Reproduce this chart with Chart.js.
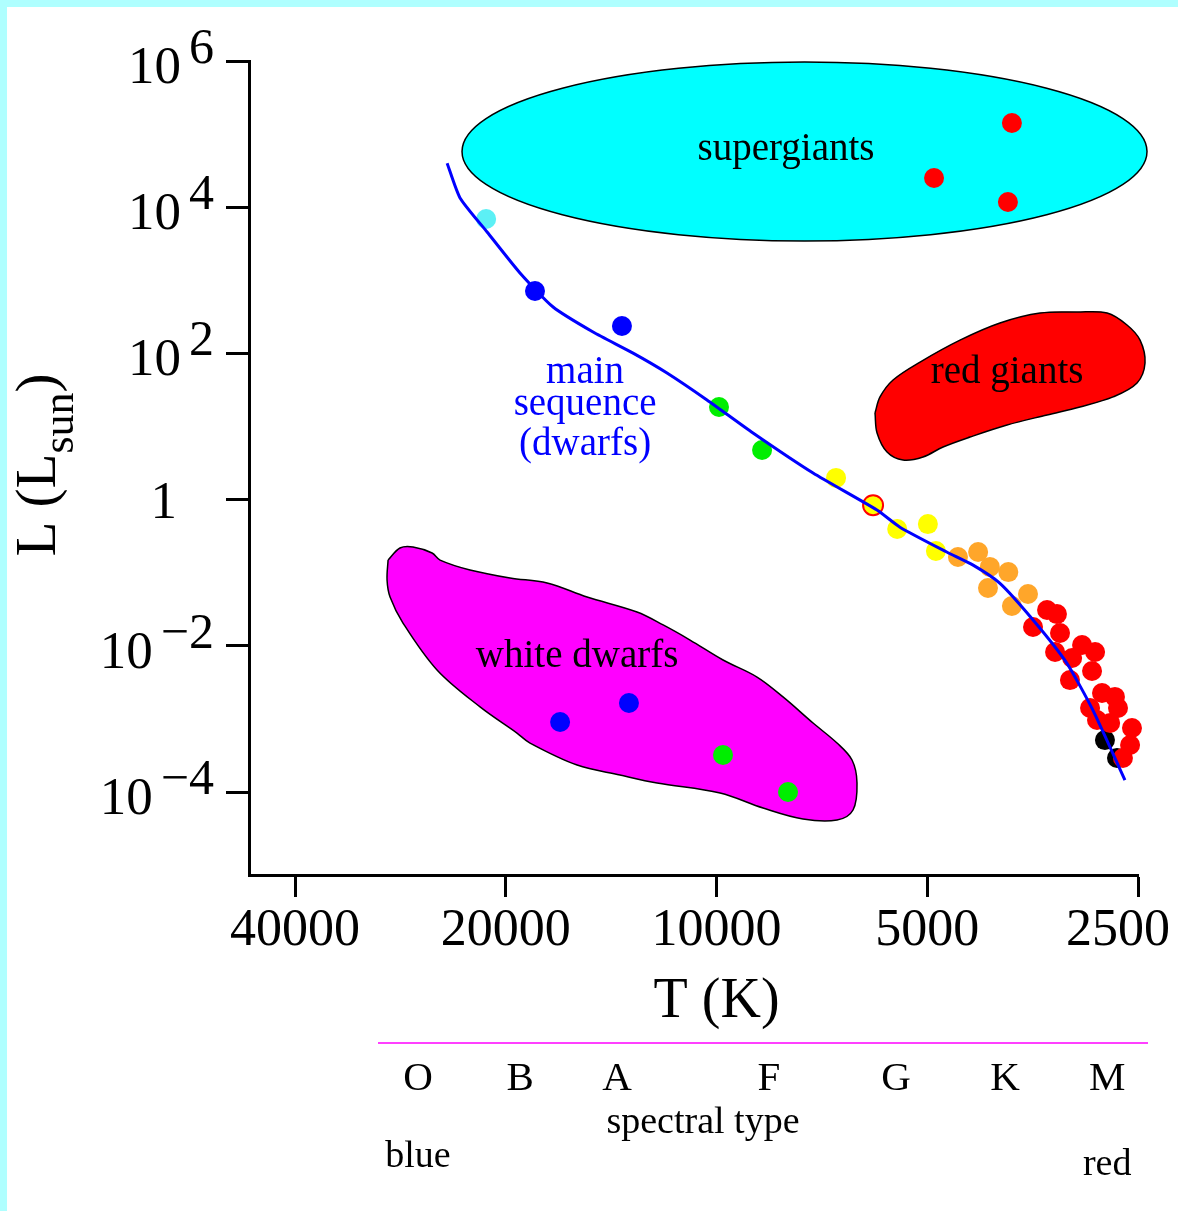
<!DOCTYPE html>
<html>
<head>
<meta charset="utf-8">
<script src="https://cdn.jsdelivr.net/npm/chart.js@4.4.1/dist/chart.umd.min.js"></script>
<style>
  html, body { margin: 0; padding: 0; background: #fff; }
  canvas { display: block; }
</style>
</head>
<body>
<canvas id="hrChart" width="1178" height="1211"></canvas>
<script>
// axis ticks
const tempTicks = [40000, 20000, 10000, 5000, 2500];          // T (K)
const lumTicks = [1e-4, 1e-2, 1, 1e2, 1e4, 1e6];              // L (L_sun)
const lumTickExp = ['\u22124', '\u22122', '', '2', '4', '6'];

// main sequence track, hot -> cool  [T, L]
const msTrack = [
    [24260, 4.0e4], [23250, 1.34e4], [21270, 4580], [19090, 1260], [17120, 431],
    [15010, 196], [13160, 101], [11770, 54], [10320, 23.1], [8870, 8.15],
    [7280, 2.31], [5900, 0.72], [5470, 0.42], [4690, 0.192], [4300, 0.127],
    [3940, 0.072], [3530, 0.0225], [3160, 0.0058], [2900, 0.00132], [2610, 1.46e-4]
];

// stars [T, L]
const supergiantStars = [[3785, 1.42e5], [4890, 2.51e4], [3835, 1.18e4]];
const msCyan = [[21340, 6900]];
const msBlue = [[18170, 714], [13650, 237]];
const msGreen = [[9920, 18.5], [8610, 4.77]];
const msYellow = [[6750, 1.98], [5520, 0.396], [4990, 0.463], [4860, 0.198]];
const sunStar = [[5976, 0.84]];
const msOrange = [
    [4520, 0.164], [4230, 0.192], [4070, 0.120], [3830, 0.102],
    [4095, 0.0618], [3590, 0.0512], [3785, 0.0351]
];
const msRed = [
    [3372, 0.0309], [3264, 0.0272], [3531, 0.0181], [3231, 0.0150], [3284, 0.00822],
    [3005, 0.01025], [2879, 0.00822], [3105, 0.00681], [2908, 0.00452], [3127, 0.0034],
    [2814, 0.00226], [2697, 0.002], [2927, 0.00141], [2670, 0.00141], [2861, 9.66e-4],
    [2740, 8.79e-4], [2550, 7.51e-4], [2566, 4.4e-4], [2627, 2.92e-4]
];
const msBlack = [[2787, 5.14e-4], [2679, 2.92e-4]];
const wdBlue = [[16730, 9.08e-4], [13340, 1.65e-3]];
const wdGreen = [[9790, 3.21e-4], [7905, 1.0e-4]];

// region outlines [T, L]
const redGiantZone = [
    [5938, 15.3], [5841, 25.4], [5596, 43.3], [5120, 76.2], [4490, 152], [3937, 261],
    [3450, 357], [3055, 368], [2767, 357], [2592, 245], [2483, 152], [2443, 73.9],
    [2508, 39.4], [2714, 25.4], [3026, 18.5], [3372, 14.4], [3846, 10.5], [4344, 7.18],
    [4747, 5.25], [5070, 3.83], [5415, 3.48], [5708, 4.48], [5898, 8.15]
];
const whiteDwarfZone = [
    [29460, 0.149], [28330, 0.218], [27140, 0.225], [25490, 0.186], [24830, 0.149],
    [22500, 0.109], [19725, 0.0847], [17460, 0.0723], [15310, 0.0465], [12990, 0.0290],
    [11920, 0.0193], [10910, 0.0120], [9788, 0.0064], [8753, 0.00374], [8036, 0.0020],
    [7280, 8.79e-4], [6728, 4.68e-4], [6404, 2.74e-4], [6300, 1.33e-4], [6383, 5.68e-5],
    [6728, 4.14e-5], [7525, 4.27e-5], [8582, 6.04e-5], [9885, 9.68e-5], [12160, 1.33e-4],
    [13740, 1.71e-4], [15820, 2.34e-4], [18470, 4.68e-4], [19280, 6.41e-4], [21770, 1.46e-3],
    [25080, 4.67e-3], [28050, 0.0205], [29270, 0.0465], [29560, 0.0794]
];
const supergiantZone = { hot: 23100, cool: 2427, top: 9.7e5, bottom: 3450 };

// labels anchored in data space
const regionLabels = [
    { text: 'supergiants', t: 7957, l: 4.43e4, color: '#000' },
    { text: 'red giants', t: 3846, l: 39.4, color: '#000' },
    { text: 'white dwarfs', t: 15820, l: 5.13e-3, color: '#000' },
    { text: 'main', t: 15410, l: 39.4, color: '#0000ff' },
    { text: 'sequence', t: 15410, l: 14.4, color: '#0000ff' },
    { text: '(dwarfs)', t: 15410, l: 4.07, color: '#0000ff' }
];
const spectralTypes = ['O', 'B', 'A', 'F', 'G', 'K', 'M'];
const spectralTemps = [26700, 19080, 13870, 8415, 5541, 3872, 2767];

const SERIF = '"Liberation Serif", "Times New Roman", serif';

const toXY = pts => pts.map(p => ({ x: p[0], y: p[1] }));

function starSet(pts, color, order) {
    return {
        data: toXY(pts),
        backgroundColor: color,
        borderWidth: 0,
        pointRadius: 10,
        pointHoverRadius: 10,
        order: order,
        clip: false
    };
}

// closed outline; filled by the zoneFill plugin from the line element's own path
function zoneSet(pts, color) {
    return {
        data: toXY(pts.concat([pts[0]])),
        showLine: true,
        zoneFill: color,
        borderColor: '#000',
        borderWidth: 1.5,
        pointRadius: 0,
        tension: 0.35,
        order: 10,
        clip: false
    };
}

const background = {
    id: 'background',
    beforeDraw(chart) {
        const { ctx, width, height } = chart;
        ctx.save();
        ctx.fillStyle = '#fff';
        ctx.fillRect(0, 0, width, height);
        ctx.fillStyle = '#afffff';
        ctx.fillRect(0, 0, width, 7);
        ctx.fillRect(0, 0, 7, height);
        ctx.restore();
    }
};

const zoneFill = {
    id: 'zoneFill',
    beforeDatasetDraw(chart, args) {
        const ds = chart.data.datasets[args.index];
        if (!ds.zoneFill || !args.meta.dataset) return;
        const ctx = chart.ctx;
        ctx.save();
        ctx.beginPath();
        args.meta.dataset.path(ctx);
        ctx.closePath();
        ctx.fillStyle = ds.zoneFill;
        ctx.fill();
        ctx.restore();
    }
};

const supergiantEllipse = {
    id: 'supergiantEllipse',
    beforeDatasetsDraw(chart) {
        const { ctx, scales: { x, y } } = chart;
        const x1 = x.getPixelForValue(supergiantZone.hot);
        const x2 = x.getPixelForValue(supergiantZone.cool);
        const y1 = y.getPixelForValue(supergiantZone.top);
        const y2 = y.getPixelForValue(supergiantZone.bottom);
        ctx.save();
        ctx.beginPath();
        ctx.ellipse((x1 + x2) / 2, (y1 + y2) / 2, Math.abs(x2 - x1) / 2, Math.abs(y2 - y1) / 2, 0, 0, Math.PI * 2);
        ctx.fillStyle = '#00ffff';
        ctx.fill();
        ctx.lineWidth = 1.5;
        ctx.strokeStyle = '#000';
        ctx.stroke();
        ctx.restore();
    }
};

const annotations = {
    id: 'annotations',
    afterDatasetsDraw(chart) {
        const { ctx, chartArea, scales: { x, y } } = chart;
        ctx.save();
        ctx.fillStyle = '#000';
        ctx.textBaseline = 'alphabetic';

        // region labels
        ctx.textAlign = 'center';
        ctx.font = '39px ' + SERIF;
        regionLabels.forEach(lb => {
            ctx.fillStyle = lb.color;
            ctx.fillText(lb.text, x.getPixelForValue(lb.t), y.getPixelForValue(lb.l));
        });
        ctx.fillStyle = '#000';

        // x tick labels (last one kept inside the picture)
        ctx.font = '52px ' + SERIF;
        tempTicks.forEach(v => {
            const w = ctx.measureText(String(v)).width;
            const cx = Math.min(x.getPixelForValue(v), chart.width - 8 - w / 2);
            ctx.fillText(String(v), cx, chartArea.bottom + 70);
        });

        // y tick labels with raised exponents
        const expRight = chartArea.left - 35;
        lumTicks.forEach((v, i) => {
            const py = y.getPixelForValue(v);
            const exp = lumTickExp[i];
            if (!exp) {
                ctx.textAlign = 'right';
                ctx.font = '53px ' + SERIF;
                ctx.fillText('1', chartArea.left - 72, py + 18);
                return;
            }
            ctx.font = '50px ' + SERIF;
            const ew = ctx.measureText(exp).width;
            ctx.textAlign = 'right';
            ctx.fillText(exp, expRight, py + 2);
            ctx.font = '53px ' + SERIF;
            ctx.fillText('10', expRight - ew - 8, py + 22);
        });

        // y title  L (L_sun)
        ctx.save();
        ctx.translate(55, (chartArea.top + chartArea.bottom) / 2 - 3);
        ctx.rotate(-Math.PI / 2);
        ctx.textAlign = 'left';
        const mainFont = '57px ' + SERIF, subFont = '44px ' + SERIF;
        ctx.font = mainFont;
        const w1 = ctx.measureText('L (L').width, w3 = ctx.measureText(')').width;
        ctx.font = subFont;
        const w2 = ctx.measureText('sun').width;
        let sx = -(w1 + w2 + w3) / 2;
        ctx.font = mainFont;
        ctx.fillText('L (L', sx, 0);
        sx += w1;
        ctx.font = subFont;
        ctx.fillText('sun', sx, 18);
        sx += w2;
        ctx.font = mainFont;
        ctx.fillText(')', sx, 0);
        ctx.restore();

        // x title, centred under the 10000 K tick
        ctx.textAlign = 'center';
        ctx.font = '56px ' + SERIF;
        ctx.fillText('T (K)', x.getPixelForValue(10000), chartArea.bottom + 142);

        // spectral type row
        ctx.strokeStyle = '#ff40ff';
        ctx.lineWidth = 2;
        ctx.beginPath();
        ctx.moveTo(chartArea.left + 129, chartArea.bottom + 168);
        ctx.lineTo(chartArea.right + 10, chartArea.bottom + 168);
        ctx.stroke();

        ctx.font = '41px ' + SERIF;
        spectralTypes.forEach((s, i) => {
            ctx.fillText(s, x.getPixelForValue(spectralTemps[i]), chartArea.bottom + 215);
        });
        ctx.font = '38px ' + SERIF;
        ctx.fillText('spectral type', 703, chartArea.bottom + 258);
        ctx.fillText('blue', x.getPixelForValue(spectralTemps[0]), chartArea.bottom + 292);
        ctx.fillText('red', x.getPixelForValue(spectralTemps[6]), chartArea.bottom + 300);
        ctx.restore();
    }
};

new Chart(document.getElementById('hrChart'), {
    type: 'scatter',
    data: {
        datasets: [
            {
                data: toXY(msTrack),
                showLine: true,
                borderColor: '#0000ff',
                borderWidth: 3,
                pointRadius: 0,
                tension: 0.2,
                order: 0,
                clip: false
            },
            Object.assign(starSet(sunStar, '#ffff00', 1), { borderColor: '#ff0000', borderWidth: 2 }),
            starSet(supergiantStars, '#ff0000', 2),
            starSet(msCyan, '#5cf0f5', 2),
            starSet(msBlue, '#0000ff', 2),
            starSet(msGreen, '#00ee00', 2),
            starSet(msYellow, '#ffff00', 2),
            starSet(msOrange, '#ffa62a', 2),
            starSet(msRed, '#ff0000', 2),
            starSet(msBlack, '#000000', 3),
            starSet(wdBlue, '#0000ff', 2),
            starSet(wdGreen, '#00ee00', 2),
            zoneSet(redGiantZone, '#ff0000'),
            zoneSet(whiteDwarfZone, '#ff00ff')
        ]
    },
    options: {
        responsive: false,
        animation: false,
        events: [],
        layout: { padding: { top: 61, right: 40, bottom: 0, left: 0 } },
        elements: { line: { capBezierPoints: false } },
        plugins: {
            legend: { display: false },
            tooltip: { enabled: false }
        },
        scales: {
            x: {
                type: 'logarithmic',
                reverse: true,
                min: 2500,
                max: 46550,
                afterBuildTicks: s => { s.ticks = tempTicks.map(v => ({ value: v })); },
                afterFit: s => { s.height = 336; s.paddingLeft = 0; s.paddingRight = 0; },
                ticks: { display: false },
                grid: { drawOnChartArea: false, drawTicks: true, tickLength: 22, tickWidth: 3, tickColor: '#000' },
                border: { display: true, color: '#000', width: 3 }
            },
            y: {
                type: 'logarithmic',
                min: 7.33e-6,
                max: 1e6,
                afterBuildTicks: s => { s.ticks = lumTicks.map(v => ({ value: v })); },
                afterFit: s => { s.width = 249; s.paddingTop = 0; s.paddingBottom = 0; },
                ticks: { display: false },
                grid: { drawOnChartArea: false, drawTicks: true, tickLength: 23, tickWidth: 3, tickColor: '#000' },
                border: { display: true, color: '#000', width: 3 }
            }
        }
    },
    plugins: [background, zoneFill, supergiantEllipse, annotations]
});
</script>
</body>
</html>
